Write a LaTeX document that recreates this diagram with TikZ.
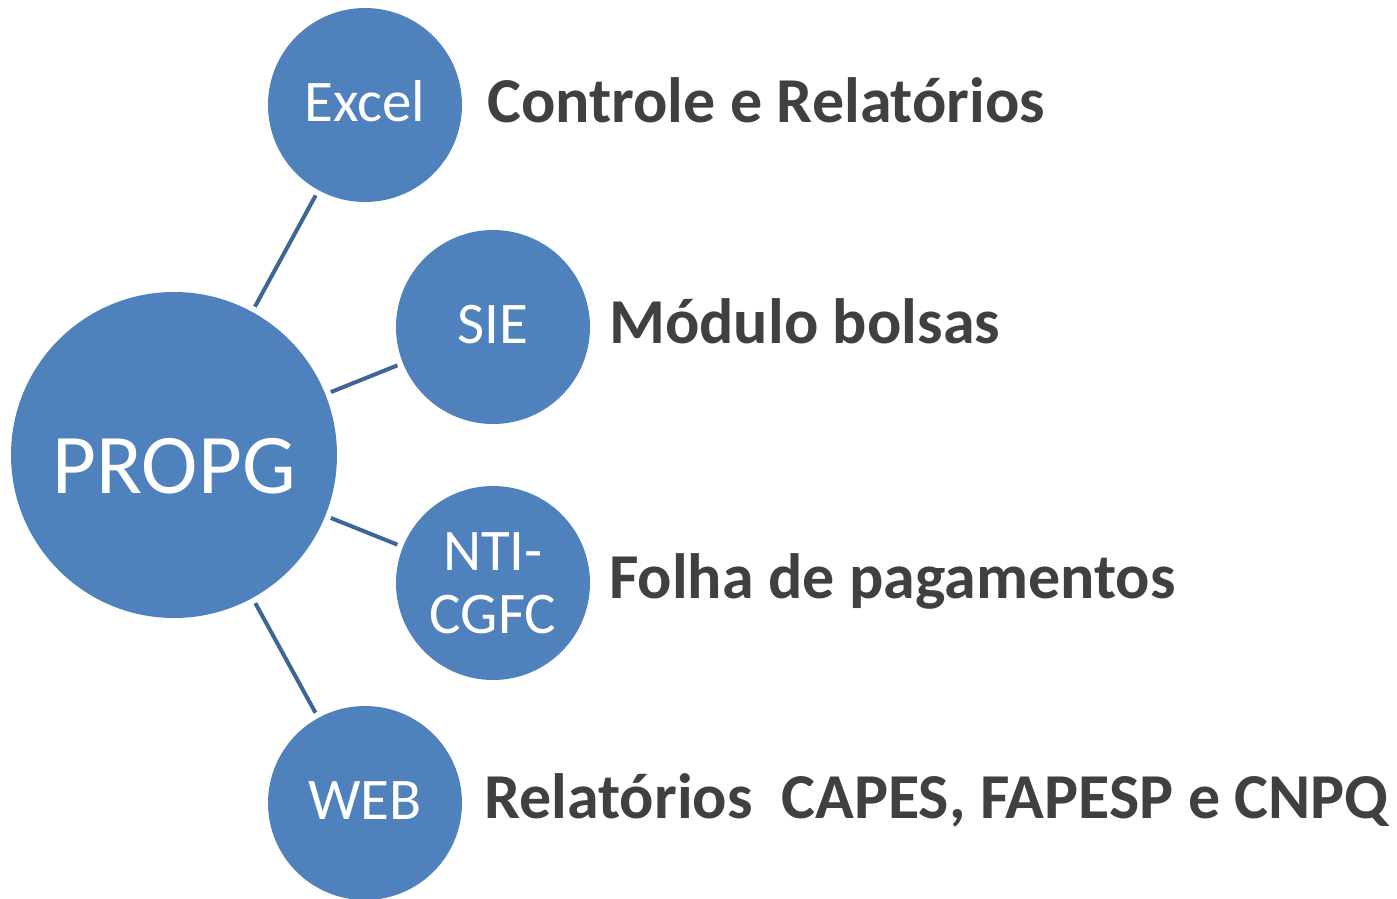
\documentclass[tikz,border=0pt]{standalone}
\usepackage{fontspec}
\setmainfont{Carlito}
\definecolor{bubble}{HTML}{4F81BD}
\definecolor{link}{HTML}{3D6697}
\definecolor{lbl}{HTML}{404040}
\begin{document}
\begin{tikzpicture}[x=1pt,y=-1pt,
  bubble/.style={circle,fill=bubble,draw=none,inner sep=0pt,outer sep=0pt,text=white,align=center},
  big/.style={bubble,minimum size=326pt,font=\fontsize{85}{85}\selectfont,text height=76pt,text depth=0pt},
  small/.style={bubble,minimum size=194pt,font=\fontsize{59}{63}\selectfont},
  oneline/.style={text height=33pt,text depth=0pt},
  link/.style={draw=link,line width=4pt,shorten <=6pt,shorten >=6pt},
  lbl/.style={anchor=base west,text=lbl,inner sep=0pt,font=\fontsize{64}{64}\selectfont\bfseries}]
\useasboundingbox (0,0) rectangle (1397,898);
\node[big] (propg) at (174,455) {PROPG};
\node[small,oneline] (excel) at (365,105) {Excel};
\node[small,oneline] (sie) at (493,327) {SIE};
\node[small] (nti) at (493,583) {NTI-\\CGFC};
\node[small,oneline] (web) at (365,803) {WEB};
\draw[link] (propg) -- (excel);
\draw[link] (propg) -- (sie);
\draw[link] (propg) -- (nti);
\draw[link] (propg) -- (web);
\node[lbl] (lexcel) at (487,122) {Controle e Relatórios};
\node[lbl] (lsie) at (609,343) {Módulo bolsas};
\node[lbl] (lnti) at (609,598) {Folha de pagamentos};
\node[lbl] (lweb) at (484,818) {Relatórios\ \ CAPES, FAPESP e CNPQ};
\end{tikzpicture}
\end{document}
